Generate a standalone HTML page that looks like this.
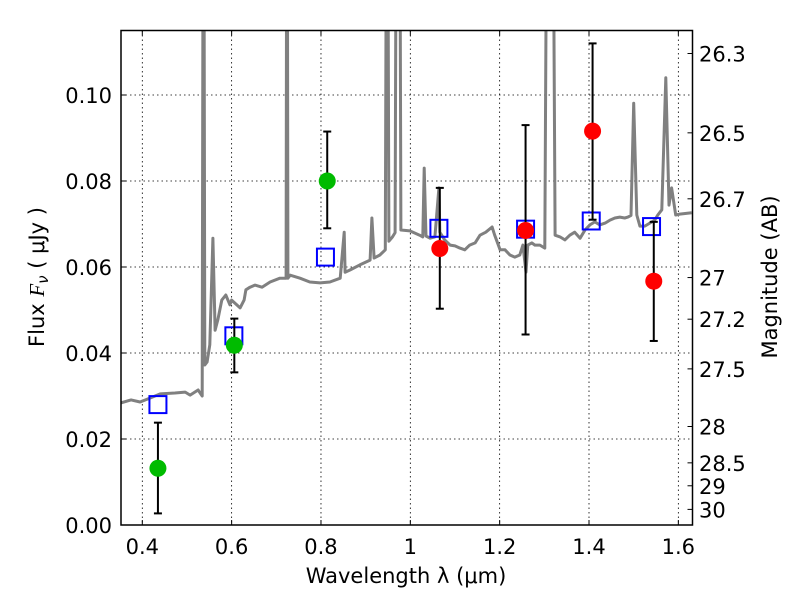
<!DOCTYPE html>
<html><head><meta charset="utf-8"><style>
body{margin:0;background:#fff}
svg text{font-family:"DejaVu Sans","Liberation Sans",sans-serif;fill:#000}
</style></head><body>
<svg id="chart" width="800" height="600" xmlns="http://www.w3.org/2000/svg">
<defs><clipPath id="plotclip"><rect x="121" y="30.5" width="571.5" height="494.5"/></clipPath></defs>
<rect width="800" height="600" fill="#fff"/>
<g id="grid"></g>
<g id="spec" clip-path="url(#plotclip)"></g>
<g id="marks"></g>
<g id="axes"></g>
</svg>
<script>
const specWl=[0.352,0.375,0.395,0.417,0.440,0.473,0.496,0.507,0.525,0.534,0.537,0.540,0.545,0.551,0.558,0.563,0.569,0.578,0.587,0.596,0.600,0.619,0.628,0.632,0.641,0.652,0.668,0.686,0.708,0.722,0.724,0.726,0.731,0.753,0.775,0.798,0.820,0.843,0.852,0.854,0.865,0.887,0.910,0.914,0.919,0.932,0.944,0.948,0.952,0.960,0.966,0.970,0.975,0.979,0.999,1.021,1.028,1.031,1.035,1.044,1.055,1.064,1.066,1.077,1.089,1.100,1.111,1.122,1.133,1.145,1.156,1.169,1.183,1.189,1.201,1.212,1.223,1.234,1.245,1.252,1.259,1.263,1.272,1.279,1.290,1.301,1.308,1.313,1.317,1.324,1.335,1.346,1.357,1.368,1.380,1.391,1.402,1.413,1.424,1.436,1.447,1.458,1.469,1.480,1.487,1.494,1.500,1.507,1.514,1.525,1.536,1.547,1.554,1.563,1.572,1.579,1.585,1.594,1.603,1.630];
const specFlux=[0.0284,0.0291,0.0286,0.0295,0.0305,0.0307,0.0309,0.0302,0.0314,0.0300,0.2,0.0372,0.0379,0.0419,0.0667,0.0453,0.0477,0.0523,0.0535,0.0512,0.0523,0.0505,0.0523,0.0547,0.0553,0.0558,0.0553,0.0565,0.0574,0.0574,0.2,0.0574,0.0581,0.0574,0.0565,0.0563,0.0565,0.0574,0.0681,0.0588,0.0593,0.0605,0.0616,0.0714,0.0621,0.0628,0.0640,0.2,0.0660,0.0670,0.0680,0.2,0.2,0.0686,0.0684,0.0674,0.0670,0.0830,0.0672,0.0667,0.0670,0.0784,0.0681,0.0663,0.0651,0.0649,0.0644,0.0640,0.0651,0.0656,0.0674,0.0681,0.0693,0.0674,0.0640,0.0640,0.0628,0.0623,0.0628,0.0651,0.0588,0.0651,0.0656,0.0651,0.0651,0.0644,0.2,0.2,0.2,0.0674,0.0670,0.0663,0.0674,0.0681,0.0667,0.0686,0.0698,0.0705,0.0698,0.0702,0.0709,0.0714,0.0716,0.0714,0.0716,0.0720,0.0981,0.0721,0.0695,0.0695,0.0702,0.0709,0.0721,0.0733,0.1040,0.0744,0.0784,0.0721,0.0723,0.0726];
const greenWl=[0.435,0.606,0.814];
const greenFlux=[0.0132,0.0418,0.0800];
const greenLo=[0.0027,0.0355,0.0690];
const greenHi=[0.0238,0.0480,0.0915];
const redWl=[1.066,1.258,1.408,1.545];
const redFlux=[0.0643,0.0685,0.0916,0.0567];
const redLo=[0.0503,0.0443,0.0710,0.0428];
const redHi=[0.0784,0.0930,0.1120,0.0705];
const modelWl=[0.435,0.605,0.81,1.064,1.258,1.405,1.54];
const modelFlux=[0.0280,0.0440,0.0623,0.0690,0.0688,0.0707,0.0694];
const xTicks=[0.4,0.6,0.8,1.0,1.2,1.4,1.6];
const xTickLabels=["0.4","0.6","0.8","1","1.2","1.4","1.6"];
const yTicks=[0,0.02,0.04,0.06,0.08,0.10];
const yTickLabels=["0.00","0.02","0.04","0.06","0.08","0.10"];
const magTicks=[26.3,26.5,26.7,27,27.2,27.5,28,28.5,29,30];
const magTickLabels=["26.3","26.5","26.7","27","27.2","27.5","28","28.5","29","30"];

const L=121,R=692.5,T=30.5,B=525;
const X=w=>142.3+(w-0.4)*446.7;
const Y=f=>B-f*4300;
const NS="http://www.w3.org/2000/svg";
function mk(tag,attrs,parent){const e=document.createElementNS(NS,tag);for(const k in attrs)e.setAttribute(k,attrs[k]);parent.appendChild(e);return e;}
const grid=document.getElementById('grid'),spec=document.getElementById('spec'),marks=document.getElementById('marks'),axes=document.getElementById('axes');

xTicks.forEach((t,i)=>{const x=X(t);
 const g=mk('line',{x1:x,x2:x,y1:T,y2:B,stroke:'#000','stroke-width':0.8,'stroke-dasharray':'1.5,3'},grid);
 
 mk('line',{x1:x,x2:x,y1:B,y2:B-5,stroke:'#000'},axes);
 mk('line',{x1:x,x2:x,y1:T,y2:T+5,stroke:'#000'},axes);
 const tx=mk('text',{x:x,y:554,'text-anchor':'middle','font-size':21},axes);tx.textContent=xTickLabels[i];
 
});
yTicks.forEach((t,i)=>{const y=Y(t);
 const g=mk('line',{x1:L,x2:R,y1:y,y2:y,stroke:'#000','stroke-width':0.8,'stroke-dasharray':'1.5,3'},grid);
 
 mk('line',{x1:L,x2:L+5,y1:y,y2:y,stroke:'#000'},axes);
 const tx=mk('text',{x:112,y:y+8,'text-anchor':'end','font-size':21},axes);tx.textContent=yTickLabels[i];
 
});
magTicks.forEach((m,i)=>{const y=Y(Math.pow(10,(23.9-m)/2.5));
 mk('line',{x1:R,x2:R-5,y1:y,y2:y,stroke:'#000'},axes);
 const tx=mk('text',{x:699,y:y+8,'font-size':21},axes);tx.textContent=magTickLabels[i];
 
});

const pts=specWl.map((w,i)=>X(w).toFixed(1)+','+Y(specFlux[i]).toFixed(1)).join(' ');
const pl=mk('polyline',{points:pts,fill:'none',stroke:'#808080','stroke-width':3,'stroke-linejoin':'round'},spec);


function errbar(w,lo,hi){const x=X(w);
 const e=mk('g',{},marks);
 
 mk('line',{x1:x,x2:x,y1:Y(lo),y2:Y(hi),stroke:'#000','stroke-width':2},e);
 mk('line',{x1:x-4,x2:x+4,y1:Y(lo),y2:Y(lo),stroke:'#000','stroke-width':2},e);
 mk('line',{x1:x-4,x2:x+4,y1:Y(hi),y2:Y(hi),stroke:'#000','stroke-width':2},e);
}
modelWl.forEach((w,i)=>{
 const s=mk('rect',{x:X(w)-8.5,y:Y(modelFlux[i])-8.5,width:17,height:17,fill:'none',stroke:'#0000ff','stroke-width':2},marks);
 
});
greenWl.forEach((w,i)=>{errbar(w,greenLo[i],greenHi[i]);
 const c=mk('circle',{cx:X(w),cy:Y(greenFlux[i]),r:8.5,fill:'#00bb00'},marks);
 
});
redWl.forEach((w,i)=>{errbar(w,redLo[i],redHi[i]);
 const c=mk('circle',{cx:X(w),cy:Y(redFlux[i]),r:8.5,fill:'#ff0000'},marks);
 
});

const fr=mk('rect',{x:L,y:T,width:R-L,height:B-T,fill:'none',stroke:'#000','stroke-width':1.5},axes);

const xl=mk('text',{x:406,y:583,'text-anchor':'middle','font-size':21},axes);
xl.textContent='Wavelength  \u03bb (\u03bcm)';

const yl=mk('text',{x:0,y:0,'text-anchor':'middle','font-size':21,transform:'translate(44,277) rotate(-90)'},axes);
yl.innerHTML='Flux  <tspan font-style="italic" font-family="Liberation Serif, serif">F</tspan><tspan font-size="15" dy="4" font-style="italic">\u03bd</tspan><tspan dy="-4">  (  \u03bcJy )</tspan>';

const rl=mk('text',{x:0,y:0,'text-anchor':'middle','font-size':21,transform:'translate(777,277) rotate(-90)'},axes);
rl.textContent='Magnitude (AB)';

</script>
</body></html>
